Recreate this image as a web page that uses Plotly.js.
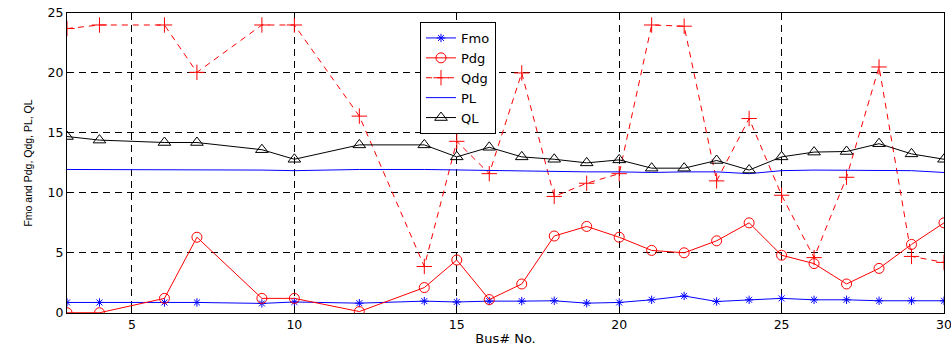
<!DOCTYPE html>
<html>
<head>
<meta charset="utf-8">
<script src="https://cdn.plot.ly/plotly-3.0.1.min.js"></script>
<style>html,body{margin:0;padding:0;background:#fff;}#chart{width:951px;height:348px;}</style>
</head>
<body>
<div id="chart"></div>
<script>
const buses = [3,4,6,7,9,10,12,14,15,16,17,18,19,20,21,22,23,24,25,26,27,28,29,30];
const fmo = [0.86,0.86,0.86,0.86,0.78,0.9,0.8,0.97,0.9,0.97,0.97,1.0,0.8,0.86,1.08,1.4,0.94,1.08,1.2,1.08,1.08,1.0,1.0,1.0];
const pdg = [0,0,1.2,6.3,1.2,1.2,0.1,2.1,4.4,1.1,2.4,6.4,7.2,6.3,5.2,5.0,6.0,7.5,4.8,4.1,2.4,3.7,5.7,7.5];
const qdg = [23.7,24,24,20.05,24,24,16.4,3.86,14.3,11.6,20,9.7,10.8,11.6,24,23.9,11.0,16.2,9.8,4.6,11.3,20.5,4.7,4.2];
const pl = [11.95,11.95,11.95,11.95,11.9,11.85,11.95,11.95,11.9,11.9,11.85,11.8,11.75,11.75,11.7,11.75,11.75,11.6,11.85,11.9,11.9,11.9,11.85,11.7];
const ql = [14.7,14.4,14.2,14.2,13.6,12.8,14.0,14.0,13.0,13.8,13.0,12.8,12.5,12.75,12.06,12.06,12.7,11.9,13.0,13.4,13.45,14.1,13.25,12.8];
const xTicks = [5,10,15,20,25,30];
const yTicks = [0,5,10,15,20,25];

const traces = [
  {x: buses, y: fmo, name: 'Fmo', mode: 'lines+markers', line: {color: '#0000ff', width: 1},
   marker: {symbol: 'asterisk-open', size: 7, color: '#0000ff', line: {color: '#0000ff', width: 1}}},
  {x: buses, y: pdg, name: 'Pdg', mode: 'lines+markers', line: {color: '#ff0000', width: 1},
   marker: {symbol: 'circle-open', size: 10, color: '#ff0000', line: {color: '#ff0000', width: 1}}},
  {x: buses, y: qdg, name: 'Qdg', mode: 'lines+markers', line: {color: '#ff0000', width: 1, dash: '6px,5px'},
   marker: {symbol: 'cross-thin-open', size: 11, color: '#ff0000', line: {color: '#ff0000', width: 1}}},
  {x: buses, y: pl, name: 'PL', mode: 'lines', line: {color: '#0000ff', width: 1}},
  {x: buses, y: ql, name: 'QL', mode: 'lines+markers', line: {color: '#000000', width: 1},
   marker: {symbol: 'triangle-up-open', size: 11, color: '#000000', line: {color: '#000000', width: 1}}}
];

const axisCommon = {
  showline: true, linecolor: '#000', linewidth: 1, mirror: 'ticks',
  ticks: 'inside', ticklen: 5, tickcolor: '#000',
  showgrid: true, gridcolor: '#000', gridwidth: 1, griddash: '7px,5px',
  zeroline: false, ticklabeloverflow: 'allow',
  tickfont: {family: 'DejaVu Sans, sans-serif', size: 12.5, color: '#000'}
};

const layout = {
  width: 951, height: 348,
  margin: {l: 67, r: 7, t: 13, b: 35},
  paper_bgcolor: '#fff', plot_bgcolor: '#fff',
  font: {family: 'DejaVu Sans, sans-serif', color: '#000'},
  xaxis: Object.assign({}, axisCommon, {
    range: [3, 30], tickvals: xTicks, ticktext: xTicks.map(String),
    title: {text: 'Bus# No.', font: {family: 'DejaVu Sans, sans-serif', size: 13, color: '#000'}, standoff: 2}
  }),
  yaxis: Object.assign({}, axisCommon, {
    range: [-0.02, 25], tickvals: yTicks, ticktext: yTicks.map(String),
    title: {text: 'Fmo and Pdg, Qdg, PL, QL', font: {family: 'Liberation Sans, Arial, sans-serif', size: 10.5, color: '#000'}, standoff: 12}
  }),
  legend: {
    x: 0.4025, y: 0.97, xanchor: 'left', yanchor: 'top',
    bgcolor: '#fff', bordercolor: '#000', borderwidth: 1,
    font: {family: 'DejaVu Sans, sans-serif', size: 13, color: '#000'}, tracegroupgap: 0
  },
  showlegend: true
};

Plotly.newPlot('chart', traces, layout, {displayModeBar: false, staticPlot: true});
</script>
</body>
</html>
